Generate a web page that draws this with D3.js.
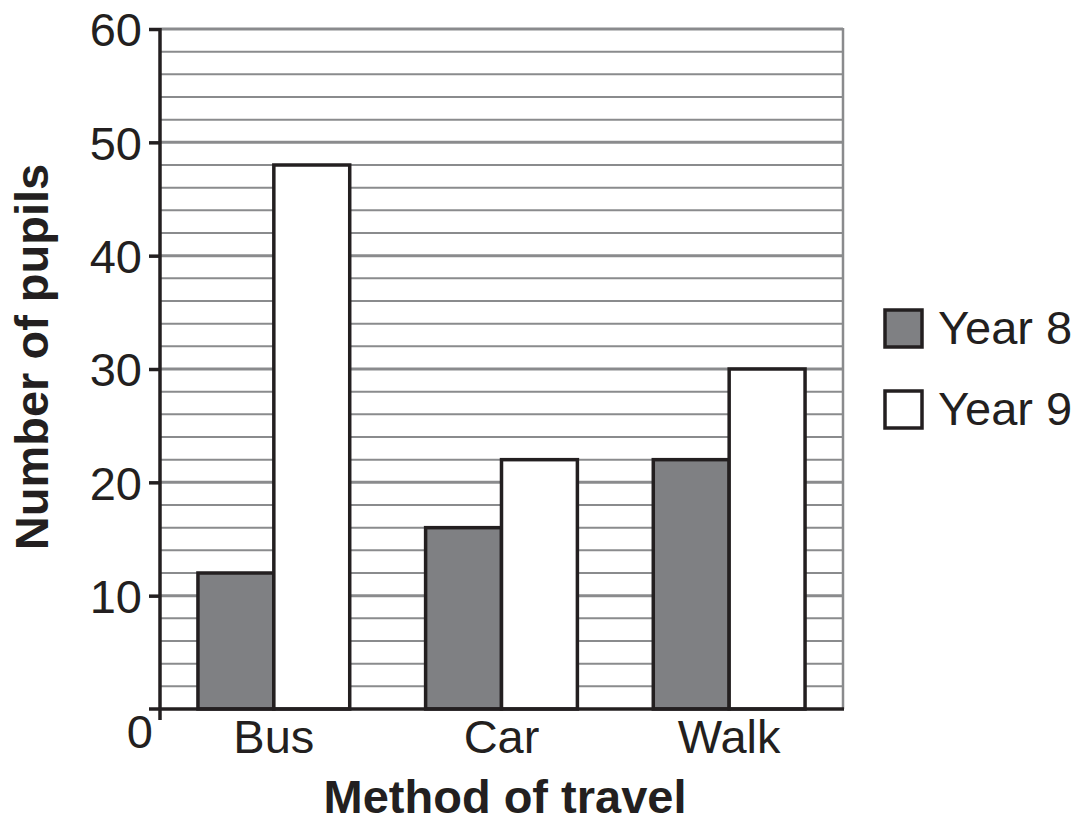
<!DOCTYPE html>
<html>
<head>
<meta charset="utf-8">
<script src="https://cdn.jsdelivr.net/npm/d3@7"></script>
<style>
  html, body { margin: 0; padding: 0; background: #fff; }
  svg { display: block; font-family: "Liberation Sans", Arial, sans-serif; }
</style>
</head>
<body>
<svg id="chart" width="1080" height="818"></svg>
<script>
// Pupils' method of travel, by year group
const categories = ["Bus", "Car", "Walk"];
const seriesNames = ["Year 8", "Year 9"];
const year8 = [12, 16, 22];
const year9 = [48, 22, 30];
const yTicks = [10, 20, 30, 40, 50, 60];
const seriesFill = ["#7f8083", "#ffffff"];

const svg = d3.select("#chart");
const plotLeft = 160, plotRight = 843, plotTop = 29, plotBottom = 709;
const labelSize = 47;

const y = d3.scaleLinear().domain([0, 60]).range([plotBottom, plotTop]);
const x = d3.scaleBand().domain(categories).range([plotLeft, plotRight])
  .paddingInner(1 / 3).paddingOuter(1 / 6);
const xs = d3.scaleBand().domain(seriesNames).range([0, x.bandwidth()]);

// Horizontal grid every 2 pupils
const gridVals = d3.range(2, 61, 2);
svg.append("g").selectAll("line").data(gridVals).join("line")
  .attr("x1", plotLeft).attr("x2", plotRight)
  .attr("y1", d => y(d)).attr("y2", d => y(d))
  .attr("stroke", "#8a8b8d")
  .attr("stroke-width", d => d % 10 === 0 ? 3 : 2);

// Right edge of plot
svg.append("line")
  .attr("x1", plotRight).attr("x2", plotRight)
  .attr("y1", y(60) - 1).attr("y2", plotBottom)
  .attr("stroke", "#8a8b8d").attr("stroke-width", 2.5);

// Bars
const rows = categories.map((c, i) => ({ cat: c, vals: [year8[i], year9[i]] }));
const groups = svg.append("g").selectAll("g").data(rows).join("g")
  .attr("transform", d => `translate(${x(d.cat)},0)`);
groups.selectAll("rect").data(d => d.vals.map((v, j) => ({ v, s: seriesNames[j], j })))
  .join("rect")
  .attr("x", d => xs(d.s))
  .attr("width", xs.bandwidth())
  .attr("y", d => y(d.v))
  .attr("height", d => y(0) - y(d.v))
  .attr("fill", d => seriesFill[d.j])
  .attr("stroke", "#231f20")
  .attr("stroke-width", 3.5);

// Axes
const axisColor = "#231f20";
svg.append("line")
  .attr("x1", plotLeft).attr("x2", plotLeft)
  .attr("y1", y(60) - 1).attr("y2", plotBottom + 11)
  .attr("stroke", axisColor).attr("stroke-width", 3.5);
svg.append("line")
  .attr("x1", plotLeft - 11).attr("x2", plotRight + 1)
  .attr("y1", plotBottom).attr("y2", plotBottom)
  .attr("stroke", axisColor).attr("stroke-width", 3.5);

const yAxis = d3.axisLeft(y).tickValues(yTicks).tickSize(11).tickPadding(8);
const gy = svg.append("g").attr("transform", `translate(${plotLeft},0)`).call(yAxis);
gy.select(".domain").remove();
gy.selectAll(".tick line").attr("stroke", axisColor).attr("stroke-width", 3.5);
gy.selectAll(".tick text")
  .attr("fill", "#231f20")
  .attr("font-size", labelSize)
  .attr("dy", "0.36em")
  .attr("dx", 1);

svg.append("text").attr("x", 153).attr("y", 748)
  .attr("text-anchor", "end").attr("font-size", labelSize).attr("fill", "#231f20")
  .text("0");

const xAxis = d3.axisBottom(x).tickSize(0).tickPadding(0);
const gx = svg.append("g").attr("transform", `translate(0,${plotBottom})`).call(xAxis);
gx.select(".domain").remove();
gx.selectAll(".tick text")
  .attr("fill", "#231f20")
  .attr("font-size", labelSize)
  .attr("dy", null)
  .attr("y", 44);
gx.attr("font-family", null).attr("font-size", null);
gy.attr("font-family", null).attr("font-size", null);

// Axis titles
svg.append("text")
  .attr("x", 505).attr("y", 813)
  .attr("text-anchor", "middle")
  .attr("font-size", labelSize).attr("font-weight", "bold").attr("fill", "#231f20")
  .text("Method of travel");
svg.append("text")
  .attr("transform", "translate(48,357) rotate(-90)")
  .attr("text-anchor", "middle")
  .attr("font-size", labelSize).attr("font-weight", "bold").attr("fill", "#231f20")
  .text("Number of pupils");

// Legend
const legend = svg.append("g").selectAll("g").data(seriesNames).join("g")
  .attr("transform", (d, i) => `translate(885,${310 + i * 81})`);
legend.append("rect")
  .attr("width", 37).attr("height", 37)
  .attr("fill", (d, i) => seriesFill[i])
  .attr("stroke", "#231f20").attr("stroke-width", 3.5);
legend.append("text")
  .attr("x", 53).attr("y", 34)
  .attr("font-size", labelSize).attr("fill", "#231f20")
  .text(d => d);
</script>
</body>
</html>
